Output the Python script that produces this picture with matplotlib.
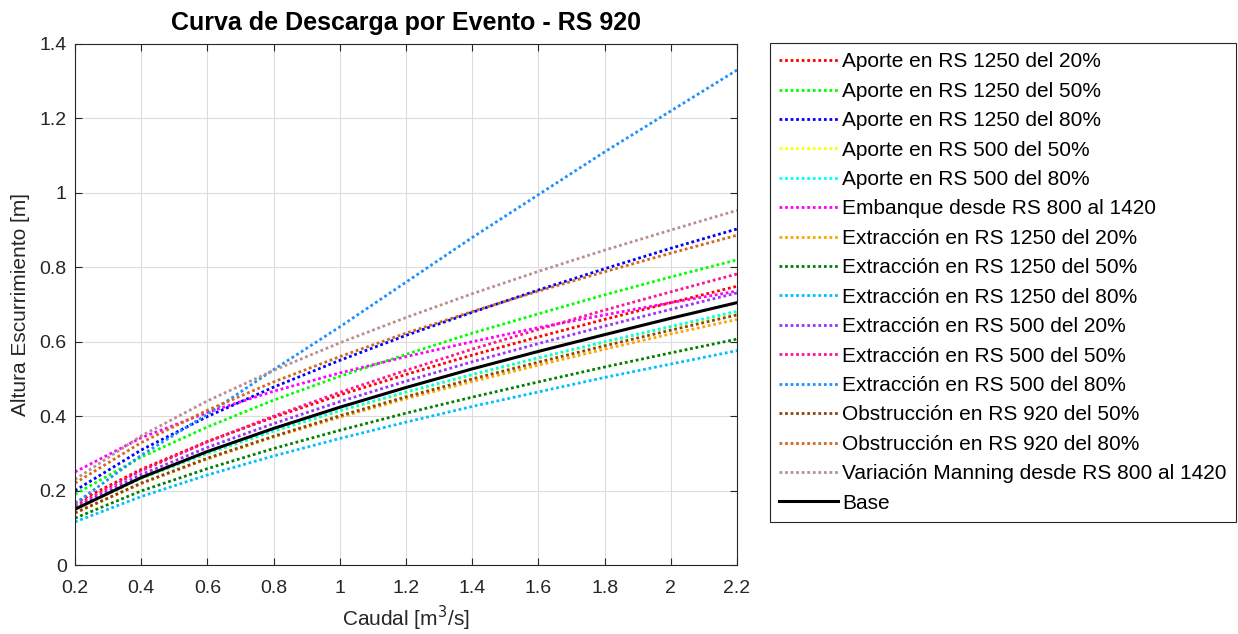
import matplotlib.pyplot as plt

plt.rcParams['font.family'] = ['Liberation Sans', 'DejaVu Sans']

# caudal values (m3/s)
q = [0.2, 0.4, 0.6, 0.8, 1.0, 1.2, 1.4, 1.6, 1.8, 2.0, 2.2]

# water height per scenario (m)
aporte_1250_20 = [0.167, 0.257, 0.332, 0.397, 0.457, 0.512, 0.564, 0.613, 0.660, 0.705, 0.749]
aporte_1250_50 = [0.190, 0.290, 0.371, 0.443, 0.507, 0.566, 0.623, 0.675, 0.726, 0.774, 0.820]
aporte_1250_80 = [0.200, 0.309, 0.399, 0.478, 0.550, 0.617, 0.679, 0.739, 0.796, 0.851, 0.903]
aporte_500_50 = [0.150, 0.232, 0.299, 0.359, 0.413, 0.463, 0.510, 0.555, 0.598, 0.639, 0.678]
aporte_500_80 = [0.151, 0.233, 0.300, 0.360, 0.415, 0.465, 0.512, 0.557, 0.600, 0.641, 0.682]
embanque = [0.250, 0.342, 0.410, 0.467, 0.516, 0.560, 0.600, 0.638, 0.672, 0.705, 0.736]
extr_1250_20 = [0.140, 0.219, 0.285, 0.344, 0.397, 0.447, 0.493, 0.537, 0.580, 0.621, 0.660]
extr_1250_50 = [0.126, 0.199, 0.259, 0.313, 0.362, 0.408, 0.451, 0.492, 0.532, 0.570, 0.607]
extr_1250_80 = [0.116, 0.184, 0.242, 0.293, 0.340, 0.384, 0.426, 0.465, 0.504, 0.540, 0.576]
extr_500_20 = [0.155, 0.243, 0.316, 0.380, 0.439, 0.494, 0.546, 0.595, 0.642, 0.687, 0.731]
extr_500_50 = [0.160, 0.253, 0.331, 0.400, 0.464, 0.523, 0.580, 0.633, 0.685, 0.734, 0.782]
extr_500_80 = [0.165, 0.295, 0.405, 0.525, 0.640, 0.760, 0.880, 0.995, 1.110, 1.220, 1.330]
obst_920_50 = [0.140, 0.220, 0.287, 0.346, 0.401, 0.452, 0.500, 0.545, 0.589, 0.631, 0.672]
obst_920_80 = [0.220, 0.329, 0.416, 0.492, 0.560, 0.623, 0.681, 0.736, 0.788, 0.838, 0.886]
manning = [0.230, 0.347, 0.441, 0.523, 0.597, 0.665, 0.729, 0.789, 0.846, 0.900, 0.953]
base = [0.150, 0.235, 0.305, 0.367, 0.424, 0.477, 0.527, 0.574, 0.619, 0.663, 0.705]

series = [
    ('Aporte en RS 1250 del 20%', aporte_1250_20, '#FF0000'),
    ('Aporte en RS 1250 del 50%', aporte_1250_50, '#00FF00'),
    ('Aporte en RS 1250 del 80%', aporte_1250_80, '#0000FF'),
    ('Aporte en RS 500 del 50%', aporte_500_50, '#FFFF00'),
    ('Aporte en RS 500 del 80%', aporte_500_80, '#00FFFF'),
    ('Embanque desde RS 800 al 1420', embanque, '#FF00FF'),
    ('Extracción en RS 1250 del 20%', extr_1250_20, '#FFA500'),
    ('Extracción en RS 1250 del 50%', extr_1250_50, '#008000'),
    ('Extracción en RS 1250 del 80%', extr_1250_80, '#00BFFF'),
    ('Extracción en RS 500 del 20%', extr_500_20, '#9933FF'),
    ('Extracción en RS 500 del 50%', extr_500_50, '#FF1493'),
    ('Extracción en RS 500 del 80%', extr_500_80, '#1E90FF'),
    ('Obstrucción en RS 920 del 50%', obst_920_50, '#8B4513'),
    ('Obstrucción en RS 920 del 80%', obst_920_80, '#D2691E'),
    ('Variación Manning desde RS 800 al 1420', manning, '#BC8F8F'),
]

fig = plt.figure(figsize=(12.38, 6.34), dpi=100)
ax = fig.add_axes([0.0606, 0.1088, 0.5347, 0.8218])

for label, vals, col in series:
    ax.plot(q, vals, linestyle=(0, (1, 1)), lw=2, color=col, label=label)
ax.plot(q, base, '-', color='black', lw=2.2, label='Base')

ax.set_xlim(0.2, 2.2)
ax.set_ylim(0, 1.4)
xt = [0.2, 0.4, 0.6, 0.8, 1.0, 1.2, 1.4, 1.6, 1.8, 2.0, 2.2]
yt = [0, 0.2, 0.4, 0.6, 0.8, 1.0, 1.2, 1.4]
ax.set_xticks(xt)
ax.set_xticklabels(['%g' % v for v in xt])
ax.set_yticks(yt)
ax.set_yticklabels(['%g' % v for v in yt])
ax.tick_params(direction='in', top=True, right=True, labelsize=14,
               colors='#262626', length=5)
ax.tick_params(axis='x', pad=11)
ax.tick_params(axis='y', pad=6)
ax.grid(True, color='#dcdcdc', lw=0.8)
for s in ax.spines.values():
    s.set_color('#262626')
    s.set_linewidth(0.8)

ax.set_title('Curva de Descarga por Evento - RS 920', fontsize=18,
             fontweight='bold', color='black', pad=10)
ax.set_xlabel('Caudal [m$^3$/s]', fontsize=15, color='#262626', labelpad=5)
ax.set_ylabel('Altura Escurrimiento [m]', fontsize=15, color='#262626', labelpad=7)

# legend box sits to the right of the axes
leg = fig.legend(loc='upper left', bbox_to_anchor=(770 / 1238, 1 - 43 / 634),
                 fontsize=15, handlelength=2.8, handletextpad=0.2,
                 labelspacing=0.5, borderaxespad=0, fancybox=False,
                 framealpha=1, edgecolor='#262626', borderpad=0.45)
leg.get_frame().set_linewidth(0.8)

fig.savefig('out.png', dpi=100)
